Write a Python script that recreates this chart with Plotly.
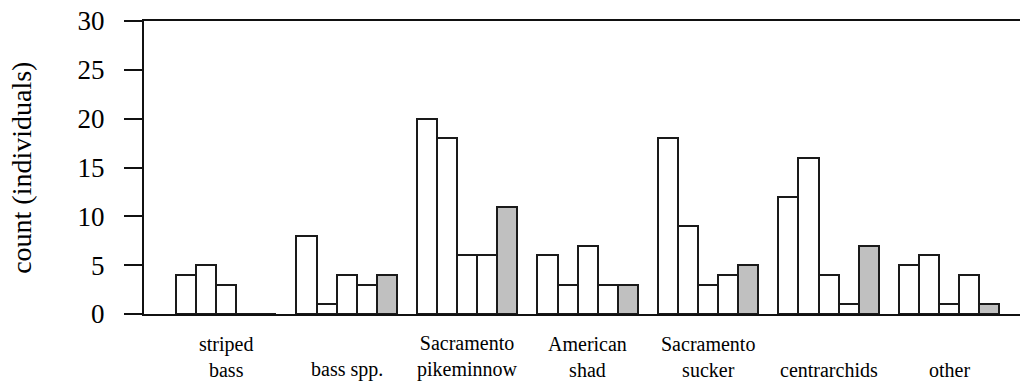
import plotly.graph_objects as go

# Fish counts by taxon; five sampling bars per taxon (last one shaded)
categories = ["striped<br>bass", "bass spp.", "Sacramento<br>pikeminnow", "American<br>shad",
              "Sacramento<br>sucker", "centrarchids", "other"]
series_1 = [4, 8, 20, 6, 18, 12, 5]
series_2 = [5, 1, 18, 3, 9, 16, 6]
series_3 = [3, 4, 6, 7, 3, 4, 1]
series_4 = [0, 3, 6, 3, 4, 1, 4]
series_5 = [0, 4, 11, 3, 5, 7, 1]
y_ticks = [0, 5, 10, 15, 20, 25, 30]

all_series = [series_1, series_2, series_3, series_4, series_5]
fills = ["white", "white", "white", "white", "#c0c0c0"]
SLOTS = 6  # five bars plus one empty slot between groups

fig = go.Figure()
for j, (vals, fill) in enumerate(zip(all_series, fills)):
    xs = [g * SLOTS + j for g in range(len(categories))]
    fig.add_trace(go.Bar(
        x=xs, y=vals, width=1.0,
        marker=dict(color=fill, line=dict(color="#1a1a1a", width=2)),
        showlegend=False,
    ))

serif = "Liberation Serif, Times New Roman, serif"

# category labels, bottom-aligned under each group
for g, name in enumerate(categories):
    fig.add_annotation(
        x=g * SLOTS + 2, y=-0.237, xref="x", yref="paper",
        text=name, showarrow=False, xanchor="center", yanchor="bottom",
        font=dict(family=serif, size=20, color="#000000"),
    )

fig.add_annotation(
    x=-0.14, y=0.5, xref="paper", yref="paper",
    text="count (individuals)", textangle=-90, showarrow=False,
    xanchor="center", yanchor="middle",
    font=dict(family=serif, size=28, color="#000000"),
)

fig.update_layout(
    width=1020, height=381,
    margin=dict(l=144, r=0, t=21, b=67),
    paper_bgcolor="white", plot_bgcolor="white",
    bargap=0, barmode="overlay",
    xaxis=dict(range=[-2.09, 41.53], showticklabels=False, ticks="",
               showgrid=False, zeroline=False,
               showline=True, linecolor="#111111", linewidth=2, mirror=True),
    yaxis=dict(range=[0, 30], tickvals=y_ticks, ticks="outside", ticklen=18,
               tickwidth=2, tickcolor="#111111",
               showgrid=False, zeroline=False,
               showline=True, linecolor="#111111", linewidth=2,
               ticklabelstandoff=14,
               tickfont=dict(family=serif, size=27, color="#000000")),
)

fig.write_html("out.html")
